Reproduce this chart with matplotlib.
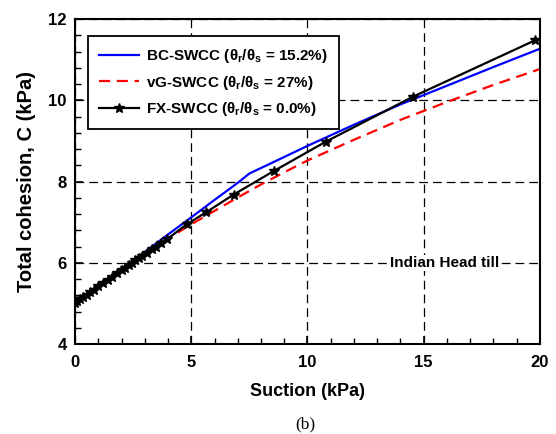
import matplotlib
matplotlib.use('Agg')
import matplotlib.pyplot as plt
from matplotlib.ticker import MultipleLocator

plt.rcParams['font.family'] = ['Liberation Sans', 'DejaVu Sans']
plt.rcParams['font.weight'] = 'bold'
plt.rcParams['mathtext.fontset'] = 'custom'
plt.rcParams['mathtext.rm'] = 'Liberation Sans:bold'
plt.rcParams['mathtext.it'] = 'Liberation Sans:bold'
plt.rcParams['mathtext.bf'] = 'Liberation Sans:bold'

# BC-SWCC curve
bc_suction = [0, 1, 2, 3, 4, 5, 6, 7, 7.5, 8.5, 10, 12, 14, 16, 18, 20]
bc_cohesion = [5.02, 5.44, 5.86, 6.27, 6.7, 7.12, 7.55, 7.97, 8.2, 8.47, 8.88, 9.4, 9.9, 10.36, 10.82, 11.27]

# vG-SWCC curve
vg_suction = [0, 1, 2, 3, 4, 5, 6, 7, 8, 9, 10, 12, 14, 16, 18, 20]
vg_cohesion = [5.02, 5.43, 5.83, 6.22, 6.6, 6.95, 7.28, 7.61, 7.93, 8.23, 8.52, 9.03, 9.52, 9.96, 10.38, 10.77]

# FX-SWCC curve (points with stars)
fx_suction = [0, 0.1, 0.2, 0.35, 0.5, 0.65, 0.8, 1.0, 1.2, 1.4, 1.6, 1.8, 2.0, 2.15, 2.3,
              2.45, 2.6, 2.75, 2.9, 3.1, 3.3, 3.5, 3.7, 3.95, 4.81, 5.65, 6.82, 8.55,
              10.78, 14.54, 19.8]
fx_cohesion = [5.02, 5.06, 5.1, 5.16, 5.22, 5.28, 5.34, 5.42, 5.5, 5.58, 5.66, 5.74, 5.82,
               5.88, 5.94, 6.0, 6.06, 6.12, 6.17, 6.25, 6.33, 6.4, 6.48, 6.58, 6.95, 7.25,
               7.68, 8.26, 8.98, 10.09, 11.48]

fig = plt.figure(figsize=(5.56, 4.34), dpi=100)
ax = fig.add_axes([0.135, 0.207, 0.836, 0.749])

ax.plot(bc_suction, bc_cohesion, color='blue', lw=1.6,
        label=r'BC-SWCC (θ$_r$/θ$_s$ = 15.2%)')
ax.plot(vg_suction, vg_cohesion, color='red', lw=1.6, ls=(0, (5, 3)),
        label=r'vG-SWCC (θ$_r$/θ$_s$ = 27%)')
ax.plot(fx_suction, fx_cohesion, color='black', lw=1.6, marker='*', ms=7,
        label=r'FX-SWCC (θ$_r$/θ$_s$ = 0.0%)')

ax.set_xlim(0, 20)
ax.set_ylim(4, 12)
ax.xaxis.set_major_locator(MultipleLocator(5))
ax.xaxis.set_minor_locator(MultipleLocator(1))
ax.yaxis.set_major_locator(MultipleLocator(2))
ax.yaxis.set_minor_locator(MultipleLocator(0.4))
ax.tick_params(which='both', direction='in', labelsize=12)
ax.tick_params(axis='x', which='major', pad=8)
ax.tick_params(axis='y', which='major', pad=6)
ax.tick_params(which='major', length=6, width=1.2)
ax.tick_params(which='minor', length=4, width=1)
ax.grid(True, which='major', color='black', ls=(0, (7, 4)), lw=0.9)
for s in ax.spines.values():
    s.set_linewidth(1.5)

ax.set_xlabel('Suction (kPa)', fontsize=13, fontweight='bold', labelpad=9)
ax.set_ylabel('Total cohesion, C (kPa)', fontsize=14.5, fontweight='bold', labelpad=9)

ax.text(15.9, 6.0, 'Indian Head till', fontsize=11, fontweight='bold',
        ha='center', va='center', bbox=dict(facecolor='white', edgecolor='none', pad=1))

leg = ax.legend(loc='upper left', bbox_to_anchor=(0.012, 0.97), fontsize=11,
                frameon=True, fancybox=False, edgecolor='black', framealpha=1,
                handlelength=2.6, handletextpad=0.5, borderpad=0.7, labelspacing=0.55)
leg.get_frame().set_linewidth(1.3)

fig.text(0.55, 0.022, '(b)', fontsize=12.5, family='Liberation Serif',
         fontweight='normal', ha='center', va='center')

fig.savefig('out.png', dpi=100)
